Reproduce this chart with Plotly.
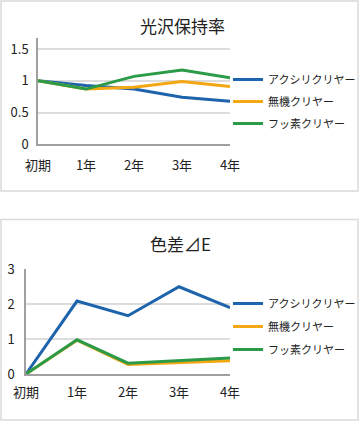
import plotly.graph_objects as go

W, H = 360, 422

categories = ["初期", "1年", "2年", "3年", "4年"]
series_names = ["アクシリクリヤー", "無機クリヤー", "フッ素クリヤー"]
colors = ["#1d64ad", "#f3a712", "#2c9b48"]

gloss_acrylic = [1.0, 0.925, 0.87, 0.74, 0.68]
gloss_inorganic = [1.0, 0.87, 0.90, 0.99, 0.91]
gloss_fluoro = [1.0, 0.87, 1.07, 1.17, 1.05]

de_acrylic = [0.0, 2.09, 1.67, 2.50, 1.90]
de_inorganic = [0.0, 0.97, 0.27, 0.33, 0.38]
de_fluoro = [0.0, 0.98, 0.31, 0.38, 0.46]

FONT = "Noto Sans CJK JP"

def px_x(x):
    return x / W

def px_y(y):
    return 1 - y / H

fig = go.Figure()

for name, vals, col in zip(series_names, [gloss_acrylic, gloss_inorganic, gloss_fluoro], colors):
    fig.add_trace(go.Scatter(x=categories, y=vals, name=name, mode="lines",
                             line=dict(color=col, width=3), xaxis="x", yaxis="y",
                             legend="legend", legendgroup="a" + name))

for name, vals, col in zip(series_names, [de_acrylic, de_inorganic, de_fluoro], colors):
    fig.add_trace(go.Scatter(x=categories, y=vals, name=name, mode="lines",
                             line=dict(color=col, width=3), xaxis="x2", yaxis="y2",
                             legend="legend2", legendgroup="b" + name))

axis_common = dict(showline=True, linecolor="#a0a0a0", linewidth=1.5, zeroline=False,
                   tickfont=dict(family=FONT, size=13, color="#222"), fixedrange=True,
                   automargin=False)

fig.update_layout(
    width=W, height=H,
    margin=dict(l=0, r=0, t=0, b=0, pad=0, autoexpand=False),
    paper_bgcolor="white", plot_bgcolor="white",
    font=dict(family=FONT, color="#222"),
    xaxis=dict(axis_common, domain=[px_x(38), px_x(230)], anchor="y", range=[0, 4],
               type="category", showgrid=False, ticks="", ticklabelstandoff=8),
    yaxis=dict(axis_common, domain=[px_y(144.3), px_y(38.3)], anchor="x", range=[0, 1.67],
               tickvals=[0, 0.5, 1, 1.5], ticktext=["0", "0.5", "1", "1.5"],
               showgrid=True, gridcolor="#dcdcdc", gridwidth=1.5, ticks="", ticklabelstandoff=5),
    xaxis2=dict(axis_common, domain=[px_x(26), px_x(230)], anchor="y2", range=[0, 4],
                type="category", showgrid=False, ticks="", ticklabelstandoff=6),
    yaxis2=dict(axis_common, domain=[px_y(374), px_y(269.3)], anchor="x2", range=[0, 3],
                tickvals=[0, 1, 2, 3], showgrid=True, gridcolor="#dcdcdc", gridwidth=1.5,
                ticks="", ticklabelstandoff=7),
    legend=dict(x=px_x(228), y=px_y(65), xanchor="left", yanchor="top",
                font=dict(family=FONT, size=11, color="#222"), tracegroupgap=3,
                bgcolor="rgba(0,0,0,0)", itemclick=False, itemdoubleclick=False),
    legend2=dict(x=px_x(228), y=px_y(289), xanchor="left", yanchor="top",
                 font=dict(family=FONT, size=11, color="#222"), tracegroupgap=4,
                 bgcolor="rgba(0,0,0,0)", itemclick=False, itemdoubleclick=False),
    annotations=[
        dict(text="光沢保持率", x=px_x(182), y=px_y(25), xref="paper", yref="paper",
             xanchor="center", yanchor="middle",
             showarrow=False, font=dict(family=FONT, size=17, color="#222")),
        dict(text="色差⊿E", x=px_x(180), y=px_y(243), xref="paper", yref="paper",
             xanchor="center", yanchor="middle",
             showarrow=False, font=dict(family=FONT, size=17, color="#222")),
    ],
    shapes=[
        dict(type="rect", xref="paper", yref="paper", x0=px_x(1), x1=px_x(358),
             y0=px_y(191), y1=px_y(1), line=dict(color="#dadada", width=1.5)),
        dict(type="rect", xref="paper", yref="paper", x0=px_x(1), x1=px_x(358),
             y0=px_y(420), y1=px_y(219.5), line=dict(color="#dadada", width=1.5)),
    ],
)

fig.write_html("out.html", config={"displayModeBar": False},
               post_script="document.body.style.margin='0';document.body.style.overflow='hidden';")
